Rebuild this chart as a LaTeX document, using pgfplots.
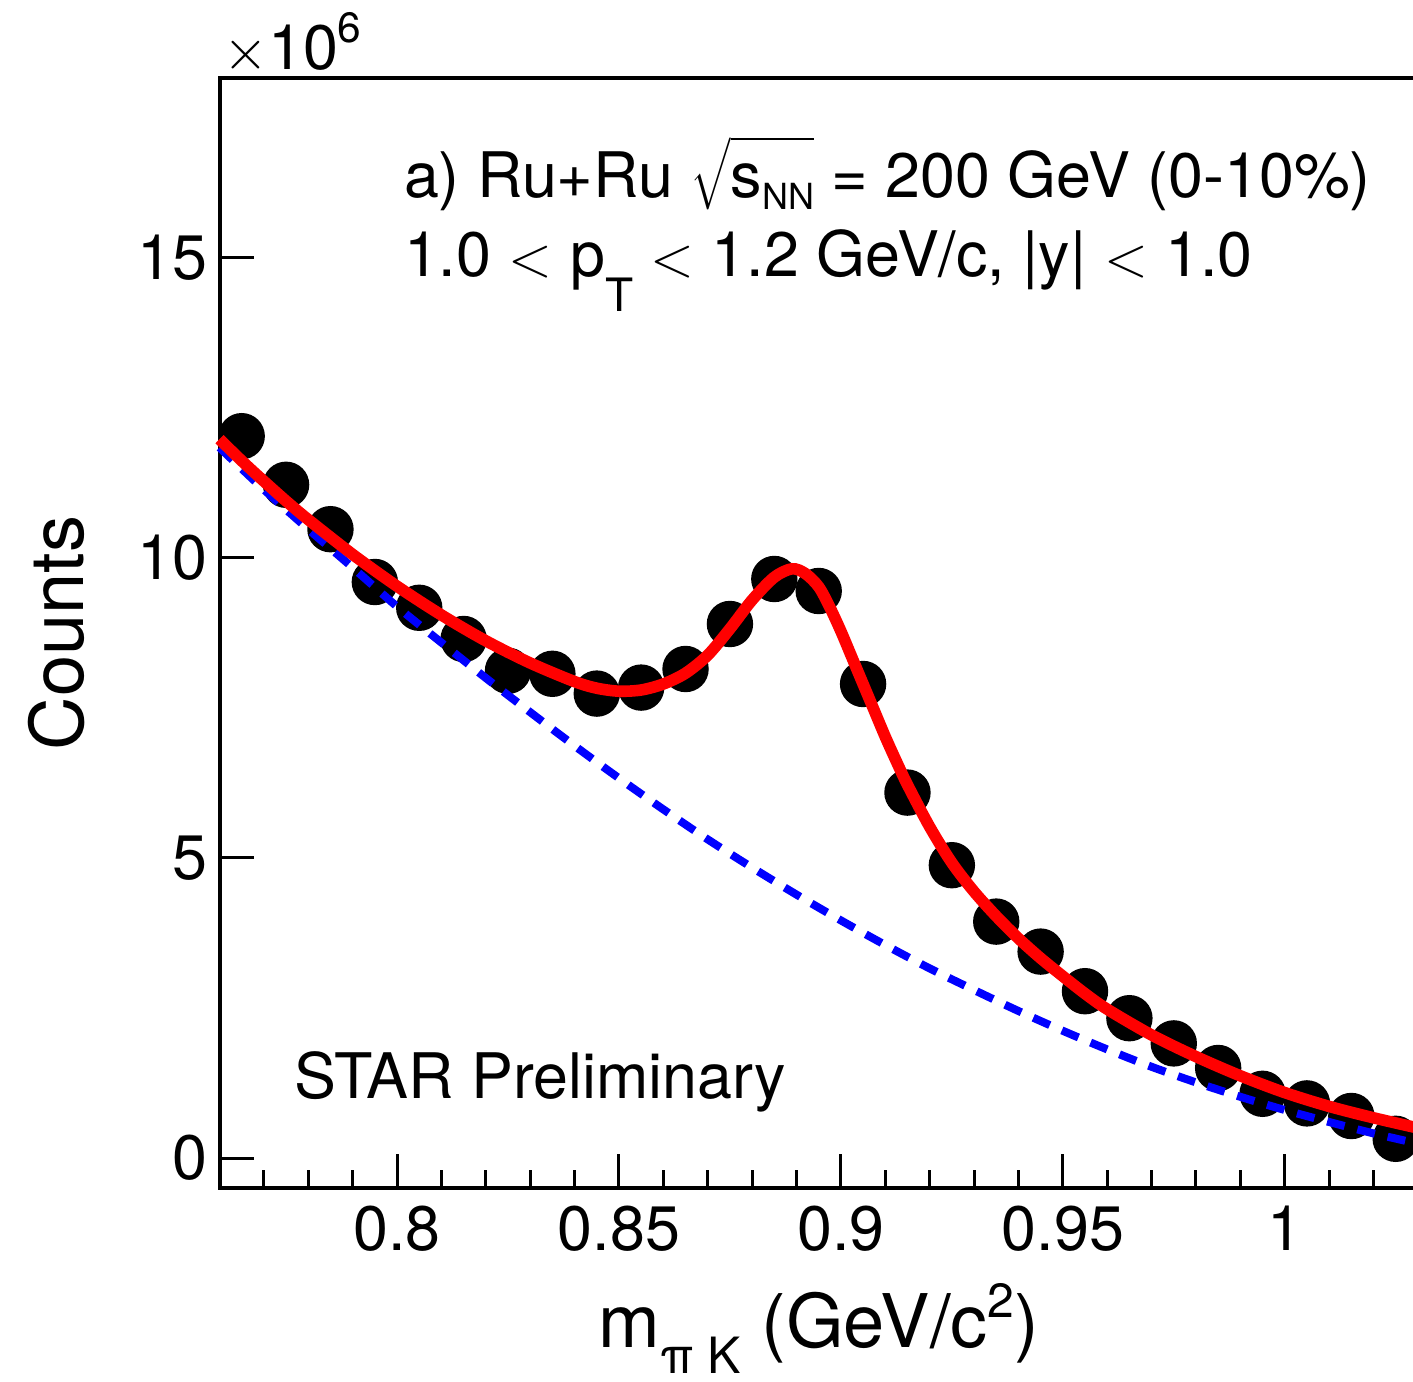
\documentclass[border=0pt]{standalone}
\usepackage{fontspec}
\setmainfont{TeX Gyre Heros}
\usepackage{pgfplots}
\pgfplotsset{compat=1.18}
\newcommand\fs{\fontsize{15.7pt}{19pt}\selectfont}
\newcommand\lowsub[3]{\raisebox{-#2}{\fontsize{#1}{#1}\selectfont #3}}

\begin{document}
\begin{tikzpicture}
\begin{axis}[
    scale only axis,
    width=299.6pt, height=277.5pt,
    xmin=0.76, xmax=1.03,
    ymin=-0.5, ymax=18,
    clip=false, clip marker paths=true,
    axis line style={line width=1pt},
    xtick={0.8,0.85,0.9,0.95,1},
    xticklabels={0.8,0.85,0.9,0.95,1},
    minor xtick={0.77,0.78,0.79,0.81,0.82,0.83,0.84,0.86,0.87,0.88,0.89,0.91,0.92,0.93,0.94,0.96,0.97,0.98,0.99,1.01,1.02},
    ytick={0,5,10,15},
    xtick pos=lower, ytick pos=left,
    tick align=inside,
    major tick length=8.5pt, minor tick length=4.5pt,
    every tick/.style={black, line width=0.75pt},
    tick label style={font=\fs, inner sep=0pt},
    xticklabel style={yshift=-4.25pt},
    yticklabel style={xshift=-2.75pt},
    /pgf/number format/assume math mode=true,
    xlabel={m\lowsub{12.5pt}{6.5pt}{π K} (GeV/c\raisebox{7.5pt}{\fontsize{12pt}{12pt}\selectfont 2})},
    xlabel style={font=\fontsize{18.5pt}{22pt}\selectfont, at={(axis description cs:0.5,-0.144)}, anchor=base, inner sep=0pt},
    ylabel={Counts},
    ylabel style={font=\fontsize{18.5pt}{22pt}\selectfont, at={(axis description cs:-0.1135,0.5)}, anchor=base, rotate=0, inner sep=0pt},
]
% data points
\addplot[only marks, mark=*, mark size=5.6pt, mark options={black, fill=black}] coordinates {
(0.765,12.03) (0.775,11.22) (0.785,10.48) (0.795,9.60) (0.805,9.17)
(0.815,8.65) (0.825,8.12) (0.835,8.07) (0.845,7.74) (0.855,7.84)
(0.865,8.15) (0.875,8.90) (0.885,9.65) (0.895,9.45) (0.905,7.90)
(0.915,6.09) (0.925,4.88) (0.935,3.94) (0.945,3.44) (0.955,2.78)
(0.965,2.33) (0.975,1.91) (0.985,1.50) (0.995,1.07) (1.005,0.91)
(1.015,0.70) (1.025,0.32)
};
% residual background
\addplot[blue, line width=2pt, dash pattern=on 4.5pt off 3.3pt, smooth] coordinates {
(0.76,11.84) (0.77,11.14) (0.78,10.48) (0.79,9.84) (0.80,9.19)
(0.81,8.59) (0.82,8.00) (0.83,7.43) (0.84,6.87) (0.85,6.33)
(0.86,5.81) (0.87,5.31) (0.88,4.84) (0.89,4.39) (0.90,3.96)
(0.91,3.55) (0.92,3.16) (0.93,2.80) (0.94,2.45) (0.95,2.12)
(0.96,1.81) (0.97,1.52) (0.98,1.26) (0.99,1.02) (1.00,0.80)
(1.01,0.60) (1.02,0.41) (1.03,0.24)
};
% total fit
\addplot[red, line width=2.9pt, smooth] coordinates {
(0.76,11.98) (0.765,11.62) (0.77,11.28) (0.775,10.95) (0.78,10.64)
(0.79,10.06) (0.80,9.53) (0.81,9.05) (0.82,8.62) (0.83,8.25)
(0.84,7.94) (0.845,7.83) (0.85,7.78) (0.855,7.80) (0.86,7.90)
(0.865,8.08) (0.87,8.38) (0.875,8.82) (0.88,9.30) (0.885,9.68)
(0.889,9.82) (0.892,9.74) (0.895,9.52) (0.8975,9.18) (0.90,8.78)
(0.9025,8.34) (0.905,7.90) (0.9075,7.46) (0.91,7.02) (0.9125,6.61)
(0.915,6.22) (0.92,5.52) (0.925,4.92) (0.93,4.44) (0.935,4.03)
(0.94,3.66) (0.945,3.33) (0.95,3.03) (0.955,2.74) (0.96,2.48)
(0.97,2.05) (0.98,1.69) (0.99,1.37) (1.00,1.09) (1.01,0.86)
(1.02,0.67) (1.03,0.50)
};
\node[anchor=base west, inner sep=0pt, font=\fs] at (axis cs:0.8014,16.0)
  {a) Ru+Ru $\sqrt{\rule[-3pt]{0pt}{17pt}\mbox{s\lowsub{9pt}{3pt}{NN}}}$ = 200 GeV (0-10\%)};
\node[anchor=base west, inner sep=0pt, font=\fs] at (axis cs:0.8014,14.69)
  {1.0 $<$ p\lowsub{11.5pt}{8.75pt}{T} $<$ 1.2 GeV/c, |y| $<$ 1.0};
\node[anchor=base west, inner sep=0pt, font=\fs] at (axis cs:0.7767,1.0)
  {STAR Preliminary};
\node[anchor=base west, inner sep=0pt, font=\fs] at ([xshift=0.75pt,yshift=2pt]rel axis cs:0,1)
  {$\times$10\raisebox{6.75pt}{\fontsize{10.6pt}{10.6pt}\selectfont 6}};
\end{axis}
\pgfresetboundingbox
\path[use as bounding box] (-54.875pt,-48.25pt) rectangle (298.375pt,297pt);
\end{tikzpicture}
\end{document}
